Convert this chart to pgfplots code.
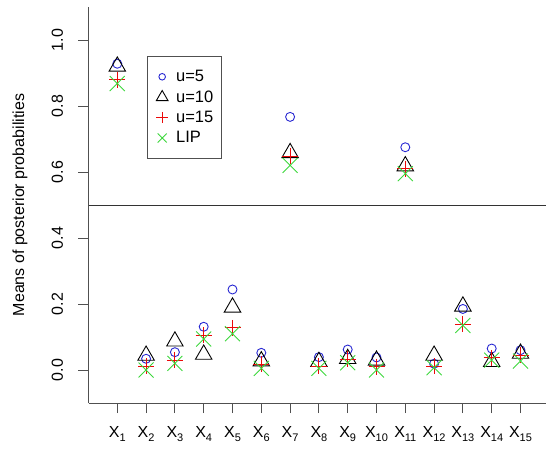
\documentclass[border=0pt]{standalone}
\usepackage{pgfplots}
\pgfplotsset{compat=1.18}
\usepackage{fontspec}
\setmainfont{Liberation Sans}
\definecolor{rblue}{RGB}{40,40,210}
\definecolor{rred}{RGB}{235,10,10}
\definecolor{rgreen}{RGB}{60,215,60}
\definecolor{axgray}{RGB}{80,80,80}
\newcommand{\Xs}[1]{X\raisebox{-0.5ex}{\fontsize{11}{11}\selectfont #1}}
\pgfplotsset{
  markleg/.style={legend image code/.code={%
    \pgfpathrectangle{\pgfpoint{-9pt}{-5pt}}{\pgfpoint{21pt}{10pt}}\pgfusepath{discard}%
    \draw[##1] plot coordinates {(0pt,0pt)};}},
}
\begin{document}
\begin{tikzpicture}
\begin{axis}[
  at={(88.5pt,45pt)}, anchor=south west,
  scale only axis, width=460.8pt, height=396pt,
  xmin=0, xmax=16, ymin=-0.1, ymax=1.1,
  axis x line*=bottom, axis y line*=left,
  axis line style={-, axgray, line width=1pt},
  xtick={1,...,15},
  xticklabels={\Xs{1},\Xs{2},\Xs{3},\Xs{4},\Xs{5},\Xs{6},\Xs{7},\Xs{8},\Xs{9},\Xs{10},\Xs{11},\Xs{12},\Xs{13},\Xs{14},\Xs{15}},
  ytick={0,0.2,0.4,0.6,0.8,1.0},
  yticklabels={0.0,0.2,0.4,0.6,0.8,1.0},
  tick align=outside, major tick length=10pt,
  tick style={axgray, line width=1pt},
  ticklabel style={font=\fontsize{16}{16}\selectfont},
  xticklabel shift=10pt,
  yticklabel shift=12pt,
  yticklabel style={rotate=90, anchor=south},
  ylabel={Means of posterior probabilities},
  ylabel style={font=\fontsize{16}{16}\selectfont, at={(axis description cs:-0.1487,0.5)}, anchor=center},
  legend cell align=left,
  legend style={at={(axis cs:2.02,0.952)}, anchor=north west, draw=axgray, line width=1pt,
    font=\fontsize{16.5}{18}\selectfont, row sep=3.5pt, inner xsep=6pt, inner ysep=12pt},
]
\addplot[black!80, line width=1pt, forget plot] coordinates {(0,0.5) (16,0.5)};
% u=5
\addplot[only marks, mark=o, rblue, mark size=4.5pt, line width=0.9pt, markleg,
  legend image post style={mark size=3.3pt}] coordinates {
  (1,0.928) (2,0.034) (3,0.054) (4,0.131) (5,0.244) (6,0.052) (7,0.767) (8,0.039)
  (9,0.062) (10,0.038) (11,0.675) (12,0.019) (13,0.185) (14,0.065) (15,0.060)};
\addlegendentry{u=5}
% u=10
\addplot[only marks, mark=triangle, black, mark size=9.5pt, line width=0.9pt, markleg,
  legend image post style={mark size=6.7pt}] coordinates {
  (1,0.920) (2,0.044) (3,0.087) (4,0.047) (5,0.190) (6,0.027) (7,0.658) (8,0.025)
  (9,0.034) (10,0.029) (11,0.618) (12,0.044) (13,0.193) (14,0.025) (15,0.050)};
\addlegendentry{u=10}
% u=15
\addplot[only marks, mark=+, rred, mark size=8pt, line width=0.9pt, markleg,
  legend image post style={mark size=5.8pt}] coordinates {
  (1,0.880) (2,0.012) (3,0.029) (4,0.105) (5,0.128) (6,0.017) (7,0.648) (8,0.012)
  (9,0.032) (10,0.010) (11,0.610) (12,0.012) (13,0.138) (14,0.037) (15,0.044)};
\addlegendentry{u=15}
% LIP
\addplot[only marks, mark=x, rgreen, mark size=10.6pt, line width=0.9pt, markleg,
  legend image post style={mark size=6.4pt}] coordinates {
  (1,0.868) (2,0.000) (3,0.020) (4,0.094) (5,0.110) (6,0.005) (7,0.620) (8,0.005)
  (9,0.022) (10,0.000) (11,0.595) (12,0.007) (13,0.135) (14,0.030) (15,0.027)};
\addlegendentry{LIP}
\end{axis}
\pgfresetboundingbox
\path[use as bounding box] (0,0) rectangle (546pt,448pt);
\end{tikzpicture}
\end{document}
